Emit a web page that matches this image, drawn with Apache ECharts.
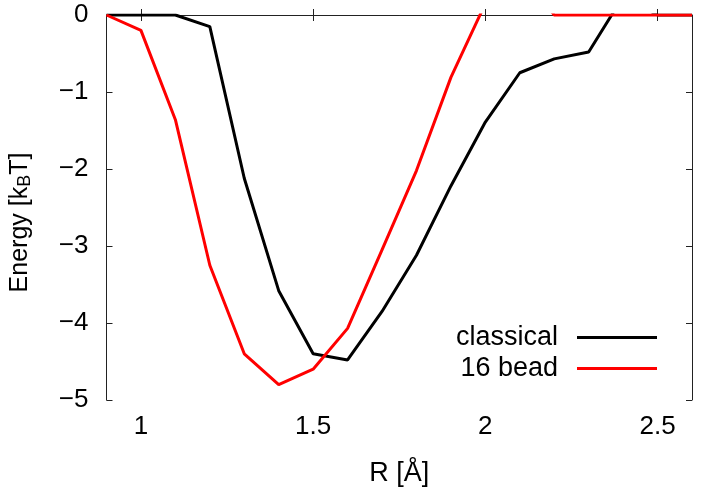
<!DOCTYPE html>
<html>
<head>
<meta charset="utf-8">
<script src="https://cdn.jsdelivr.net/npm/echarts@6/dist/echarts.min.js"></script>
<style>
  html, body { margin: 0; padding: 0; background: #fff; }
  #chart { width: 706px; height: 494px; }
</style>
</head>
<body>
<div id="chart"></div>
<script>
  // R values (Angstrom)
  const rValues = [0.9, 1.0, 1.1, 1.2, 1.3, 1.4, 1.5, 1.6, 1.7, 1.8, 1.9, 2.0, 2.1, 2.2, 2.3, 2.4, 2.5, 2.6];
  // energies in kBT
  const classical = [0, 0, 0, -0.15, -2.12, -3.58, -4.40, -4.48, -3.85, -3.12, -2.22, -1.39, -0.75, -0.57, -0.48, 0.24, 0, 0];
  const bead16 = [0, -0.20, -1.36, -3.25, -4.40, -4.80, -4.60, -4.07, -3.05, -2.02, -0.81, 0.15, 0.6, 0, 0, 0, 0, 0];
  const xTicks = [1, 1.5, 2, 2.5];

  const font = 'Liberation Sans';
  const toPairs = ys => rValues.map((r, i) => [r, ys[i]]);

  const chart = echarts.init(document.getElementById('chart'));

  const axisLine = { show: true, lineStyle: { color: '#222', width: 1 } };
  const axisTick = { show: true, inside: true, length: 6, lineStyle: { color: '#222' } };

  chart.setOption({
    animation: false,
    textStyle: { fontFamily: font },
    grid: { left: 106, right: 14, top: 15, bottom: 94 },
    legend: {
      orient: 'vertical',
      align: 'right',
      right: 49,
      top: 324,
      padding: 0,
      itemWidth: 80,
      itemHeight: 3,
      itemGap: 4,
      icon: 'rect',
      textStyle: { fontSize: 27, color: '#000', fontFamily: font, padding: [0, 14, 0, 0] },
      data: ['classical', '16 bead']
    },
    xAxis: [
      {
        type: 'value',
        min: 0.9,
        max: 2.6,
        name: 'R [Å]',
        nameLocation: 'middle',
        nameGap: 60,
        nameTextStyle: { fontSize: 27, color: '#000', fontFamily: font },
        axisLine: axisLine,
        splitLine: { show: false },
        axisLabel: {
          fontSize: 26,
          color: '#000',
          margin: 14,
          customValues: xTicks,
          formatter: v => String(v)
        },
        axisTick: Object.assign({ customValues: xTicks }, axisTick)
      },
      {
        type: 'value',
        position: 'top',
        min: 0.9,
        max: 2.6,
        axisLine: axisLine,
        axisTick: Object.assign({ customValues: xTicks }, axisTick),
        axisLabel: { show: false },
        splitLine: { show: false }
      }
    ],
    yAxis: [
      {
        type: 'value',
        min: -5,
        max: 0,
        interval: 1,
        name: 'Energy [k{sub|B}T]',
        nameLocation: 'middle',
        nameGap: 72,
        nameTextStyle: {
          fontSize: 25,
          color: '#000',
          fontFamily: font,
          padding: [0, 30, 0, 0],
          rich: {
            sub: { fontSize: 18, fontFamily: font, color: '#000', verticalAlign: 'bottom', padding: [10, 0, 0, 0] }
          }
        },
        axisLine: axisLine,
        axisTick: axisTick,
        splitLine: { show: false },
        axisLabel: {
          fontSize: 26,
          color: '#000',
          margin: 18,
          formatter: v => String(v).replace('-', '\u2212')
        }
      },
      {
        type: 'value',
        position: 'right',
        min: -5,
        max: 0,
        interval: 1,
        axisLine: axisLine,
        axisTick: axisTick,
        axisLabel: { show: false },
        splitLine: { show: false }
      }
    ],
    series: [
      {
        name: 'classical',
        type: 'line',
        data: toPairs(classical),
        symbol: 'none',
        color: '#000',
        lineStyle: { color: '#000', width: 3 },
        clip: true,
        z: 2
      },
      {
        name: '16 bead',
        type: 'line',
        data: toPairs(bead16),
        symbol: 'none',
        color: '#ff0000',
        lineStyle: { color: '#ff0000', width: 3 },
        clip: true,
        z: 3
      }
    ]
  });
</script>
</body>
</html>
